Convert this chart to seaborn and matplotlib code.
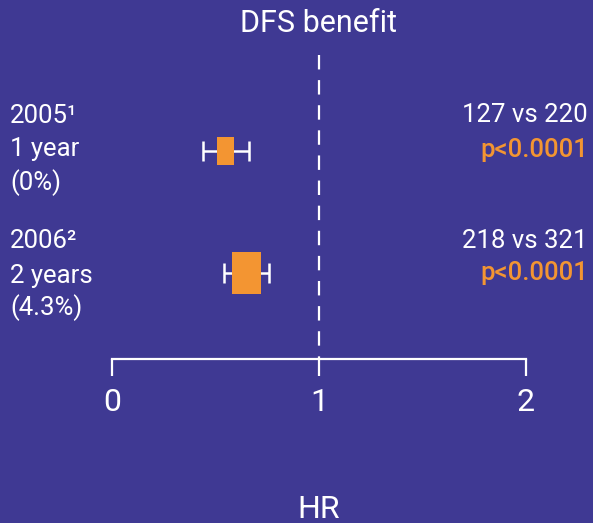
import numpy as np
import pandas as pd
import matplotlib
matplotlib.use("Agg")
import matplotlib.pyplot as plt
from matplotlib.path import Path
import seaborn as sns

# Trial data: hazard ratios for disease-free survival with 95% CI
years = ["2005\u00b9", "2006\u00b2"]
follow_up = ["1 year", "2 years"]
crossover = ["(0%)", "(4.3%)"]
hr = [0.55, 0.65]
ci_low = [0.44, 0.54]
ci_high = [0.66, 0.76]
events = ["127 vs 220", "218 vs 321"]
p_values = ["p<0.0001", "p<0.0001"]
box_sizes = [406, 914]          # marker area, grows with trial weight
box_aspect = [0.61, 0.67]       # width / height of each box
x_ticks = [0, 1, 2]

BG = "#3f3993"
ORANGE = "#f39532"
WHITE = "#ffffff"

sns.set_theme(style="white", rc={"axes.facecolor": BG, "figure.facecolor": BG})
plt.rcParams["font.family"] = ["Roboto", "DejaVu Sans"]

W, H, DPI = 593, 523, 100
fig = plt.figure(figsize=(W / DPI, H / DPI), dpi=DPI)
ax = fig.add_axes([0, 0, 1, 1])
ax.set_facecolor(BG)

# horizontal scale: HR 0 -> px 112, HR 2 -> px 526
px0, px_unit = 112, 207
ax.set_xlim(-px0 / px_unit, (W - px0) / px_unit)
# vertical scale: row 0 -> px 151, row 1 -> px 273
py0, py_unit = 151, 122
ax.set_ylim((H - py0) / py_unit, -py0 / py_unit)

rows = np.arange(len(hr))
df = pd.DataFrame({"hr": hr, "row": rows, "study": years,
                   "size": box_sizes})

# confidence interval whiskers
hr_arr = np.array(hr)
ax.errorbar(hr_arr, rows, xerr=[hr_arr - np.array(ci_low), np.array(ci_high) - hr_arr],
            fmt="none", ecolor=WHITE, elinewidth=1.8, capsize=7, capthick=1.8, zorder=2)

# point estimate boxes
def rect_marker(aspect):
    w = aspect / 2
    return Path([(-w, -0.5), (w, -0.5), (w, 0.5), (-w, 0.5), (-w, -0.5)],
                [Path.MOVETO, Path.LINETO, Path.LINETO, Path.LINETO, Path.CLOSEPOLY])

markers = {s: rect_marker(a) for s, a in zip(years, box_aspect)}
sizes = {s: sz for s, sz in zip(years, box_sizes)}
sns.scatterplot(data=df, x="hr", y="row", style="study", markers=markers,
                size="study", sizes=sizes, color=ORANGE, linewidth=0,
                legend=False, ax=ax, zorder=3)

# no-effect reference line
axis_y = (359 - py0) / py_unit
top_y = (55 - py0) / py_unit
ax.plot([1, 1], [top_y, axis_y], color=WHITE, lw=1.6, ls=(0, (6.5, 4.8)), zorder=1)

# x axis drawn as bracket from 0 to 2
for side in ["top", "left", "right"]:
    ax.spines[side].set_visible(False)
ax.spines["bottom"].set_position(("data", axis_y))
ax.spines["bottom"].set_bounds(0, 2)
ax.spines["bottom"].set_color(WHITE)
ax.spines["bottom"].set_linewidth(1.6)
ax.set_xticks(x_ticks)
ax.set_xticklabels([str(t) for t in x_ticks])
ax.tick_params(axis="x", direction="out", length=12, width=1.6, color=WHITE,
               labelcolor=WHITE, labelsize=23, pad=9, bottom=True)
ax.set_yticks([])
ax.set_xlabel("")
ax.set_ylabel("")

def fx(px):
    return px / W

def fy(py):
    return 1 - py / H

fig.text(fx(319), fy(32), "DFS benefit", color=WHITE, fontsize=22,
         ha="center", va="baseline")
fig.text(fx(319), fy(518), "HR", color=WHITE, fontsize=23,
         ha="center", va="baseline")

# study labels on the left, event counts and p-values on the right
left_baselines = [[123, 156, 190], [248, 283, 315]]
right_baselines = [[122, 157], [248, 280]]
for i in rows:
    for txt, b in zip([years[i], follow_up[i], crossover[i]], left_baselines[i]):
        fig.text(fx(10), fy(b), txt, color=WHITE, fontsize=18.5,
                 ha="left", va="baseline")
    fig.text(fx(588), fy(right_baselines[i][0]), events[i], color=WHITE,
             fontsize=18.5, ha="right", va="baseline")
    fig.text(fx(588), fy(right_baselines[i][1]), p_values[i], color=ORANGE,
             fontsize=18.5, fontweight="medium", ha="right", va="baseline")

fig.savefig("out.png", dpi=DPI, facecolor=BG)
